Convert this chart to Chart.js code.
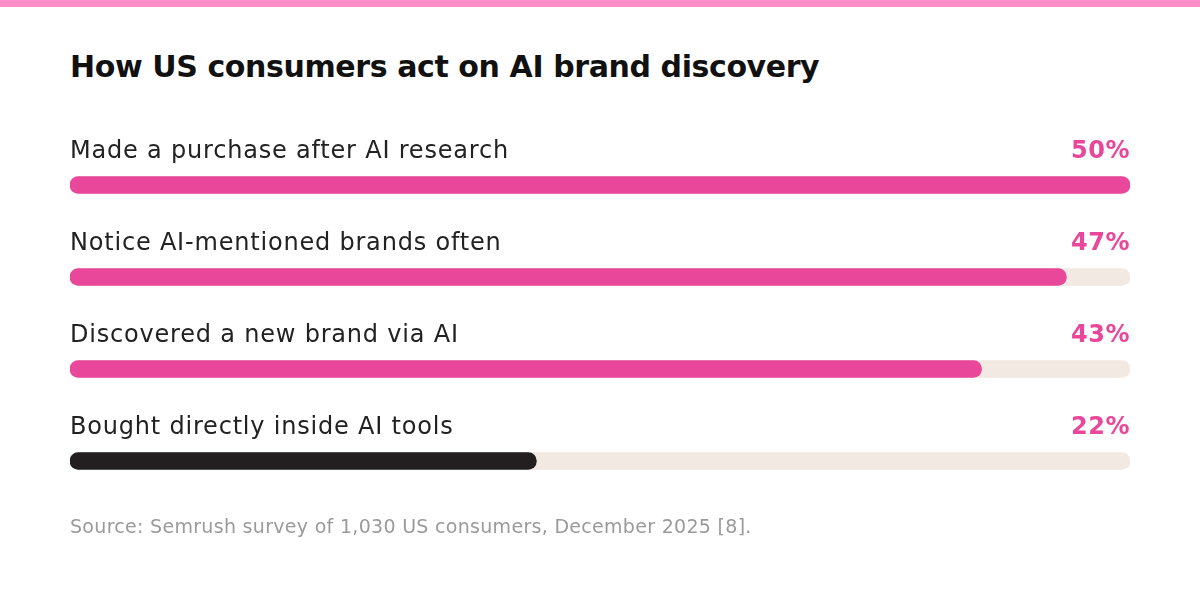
<!DOCTYPE html>
<html>
<head>
<meta charset="utf-8">
<script src="https://cdn.jsdelivr.net/npm/chart.js@4"></script>
<style>
  html, body { margin: 0; padding: 0; background: #fff; }
  body { width: 1200px; height: 609px; position: relative; overflow: hidden; font-family: "DejaVu Sans", sans-serif; }
  .strip { position: absolute; left: 0; top: 0; width: 1200px; height: 7px; background: #ff8dc7; }
  h1 { position: absolute; left: 70px; top: 49px; margin: 0; font-size: 30px; font-weight: bold; color: #111; letter-spacing: -0.4px; }
  .source { position: absolute; left: 70px; top: 515px; font-size: 19px; letter-spacing: 0.3px; color: #9a9a9a; }
  #chart { position: absolute; left: 0; top: 0; }
</style>
</head>
<body>
<div class="strip"></div>
<h1>How US consumers act on AI brand discovery</h1>
<canvas id="chart" width="1200" height="609"></canvas>
<div class="source">Source: Semrush survey of 1,030 US consumers, December 2025 [8].</div>
<script>
const categories = ['Made a purchase after AI research', 'Notice AI-mentioned brands often', 'Discovered a new brand via AI', 'Bought directly inside AI tools'];
const values = [50, 47, 43, 22];
const scaleMax = 50;
const barColors = ['#e8479a', '#e8479a', '#e8479a', '#231f20'];
const labelColors = ['#e8479a', '#e8479a', '#e8479a', '#e8479a'];

// labels above each bar: name on the left, percent on the right
const rowLabels = {
    id: 'rowLabels',
    afterDatasetsDraw(chart) {
        const ctx = chart.ctx;
        const area = chart.chartArea;
        const yScale = chart.scales.y;
        ctx.save();
        ctx.textBaseline = 'middle';
        categories.forEach((name, i) => {
            const y = yScale.getPixelForValue(i) - 33;
            ctx.font = '24px "DejaVu Sans", sans-serif';
            ctx.letterSpacing = '0.8px';
            ctx.fillStyle = '#222';
            ctx.textAlign = 'left';
            ctx.fillText(name, area.left, y);
            ctx.font = 'bold 24px "DejaVu Sans", sans-serif';
            ctx.letterSpacing = '0.5px';
            ctx.fillStyle = labelColors[i];
            ctx.textAlign = 'right';
            ctx.fillText(values[i] + '%', area.right, y);
        });
        ctx.restore();
    }
};

new Chart(document.getElementById('chart'), {
    type: 'bar',
    data: {
        labels: categories,
        datasets: [{
            data: values,
            backgroundColor: barColors,
            borderRadius: 9,
            borderSkipped: false,
            barThickness: 17,
            grouped: false,
            order: 0
        }, {
            data: categories.map(() => scaleMax),
            backgroundColor: '#f1e9e2',
            borderRadius: 9,
            borderSkipped: false,
            barThickness: 17,
            grouped: false,
            order: 1
        }]
    },
    options: {
        indexAxis: 'y',
        responsive: false,
        animation: false,
        layout: { padding: { left: 70, right: 70, top: 139, bottom: 102 } },
        scales: {
            x: { display: false, min: 0, max: scaleMax },
            y: { display: false }
        },
        plugins: {
            legend: { display: false },
            tooltip: { enabled: false }
        }
    },
    plugins: [rowLabels]
});
</script>
</body>
</html>
